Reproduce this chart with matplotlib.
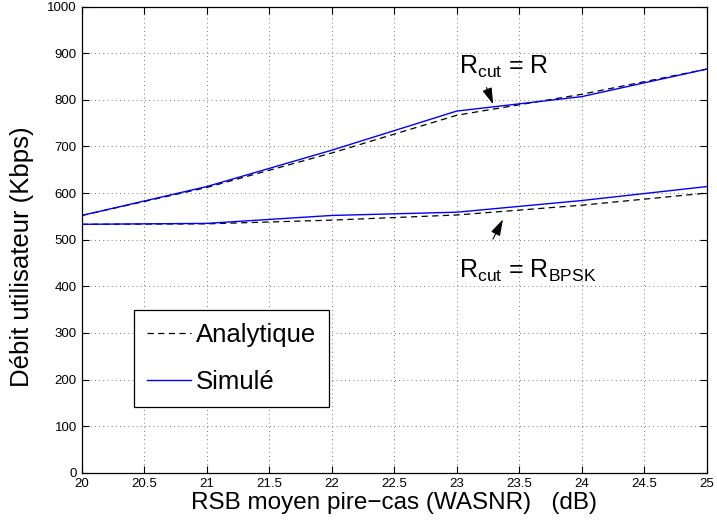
import matplotlib
matplotlib.use('Agg')
import matplotlib.pyplot as plt

plt.rcParams['font.family'] = ['Liberation Sans', 'DejaVu Sans']
plt.rcParams['mathtext.fontset'] = 'custom'
plt.rcParams['mathtext.rm'] = 'Liberation Sans'
plt.rcParams['mathtext.it'] = 'Liberation Sans'

# data
snr = [20, 21, 22, 23, 24, 25]
ana_r = [552, 612, 686, 767, 812, 866]
sim_r = [552, 614, 692, 776, 807, 866]
ana_bpsk = [533, 534, 542, 553, 574, 600]
sim_bpsk = [533, 535, 552, 559, 584, 614]

xticks = [20, 20.5, 21, 21.5, 22, 22.5, 23, 23.5, 24, 24.5, 25]
yticks = list(range(0, 1001, 100))

fig = plt.figure(figsize=(7.17, 5.26), dpi=100)
ax = fig.add_axes([0.114, 0.1013, 0.8716, 0.886])

ax.plot(snr, ana_r, color='black', ls=(0, (5, 3.5)), lw=0.9, label='Analytique')
ax.plot(snr, sim_r, color='blue', lw=1.0, label='Simulé')
ax.plot(snr, ana_bpsk, color='black', ls=(0, (5, 3.5)), lw=0.9)
ax.plot(snr, sim_bpsk, color='blue', lw=1.0)

ax.set_xlim(20, 25)
ax.set_ylim(0, 1000)
ax.set_xticks(xticks)
ax.set_xticklabels([('%g' % t) for t in xticks])
ax.set_yticks(yticks)
ax.tick_params(direction='in', top=True, right=True, labelsize=9.5, length=5, width=0.8)
ax.grid(True, ls=(0, (1, 4)), color='black', lw=0.6, alpha=0.7)
for s in ax.spines.values():
    s.set_linewidth(0.9)

ax.set_xlabel('RSB moyen pire\u2212cas (WASNR)   (dB)', fontsize=17.5, labelpad=2)
ax.set_ylabel('Débit utilisateur (Kbps)', fontsize=18.5)
ax.yaxis.set_label_coords(-0.076, 0.464)

# annotations
ax.text(23.02, 857, r'R$_{\mathrm{cut}}$ = R', fontsize=18, va='baseline', ha='left')
ax.text(23.02, 419, r'R$_{\mathrm{cut}}$ = R$_{\mathrm{BPSK}}$', fontsize=18, va='baseline', ha='left')
ax.annotate('', xy=(23.30, 785), xytext=(23.23, 832),
            arrowprops=dict(arrowstyle='-|>,head_length=1.0,head_width=0.3', color='black', lw=0.8))
ax.annotate('', xy=(23.38, 549), xytext=(23.28, 496),
            arrowprops=dict(arrowstyle='-|>,head_length=1.0,head_width=0.3', color='black', lw=0.8))

leg = ax.legend(loc='lower left', bbox_to_anchor=(0.084, 0.141), borderaxespad=0,
                fontsize=18.5, fancybox=False, framealpha=1, edgecolor='black',
                handlelength=1.7, handletextpad=0.2, borderpad=0.5, labelspacing=0.9)
leg.get_frame().set_linewidth(0.9)

fig.savefig('out.png', dpi=100)
